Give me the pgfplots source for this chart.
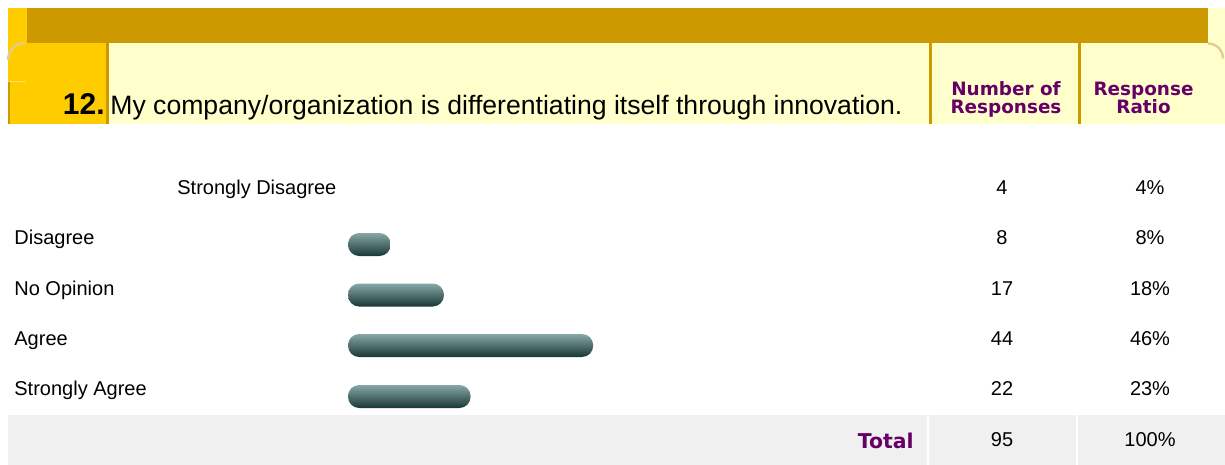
\documentclass[border=0pt]{standalone}
\usepackage{pgfplots}
\pgfplotsset{compat=1.18}
\usepackage{fontspec}
\setmainfont{Liberation Sans}
\newfontfamily\hdrfont{DejaVu Sans}
\definecolor{darkgold}{RGB}{204,153,0}
\definecolor{goldyellow}{RGB}{255,204,0}
\definecolor{cream}{RGB}{255,255,204}
\definecolor{arcgold}{RGB}{228,205,140}
\definecolor{rowgray}{RGB}{240,240,240}
\definecolor{hdrpurple}{RGB}{102,0,102}
\definecolor{tealtop}{RGB}{135,168,168}
\definecolor{tealmid}{RGB}{50,98,98}
\definecolor{tealbot}{RGB}{24,54,54}

\pgfplotsset{tealbar/.style={xbar, bar width=11.5pt, bar shift=0pt, draw=none,
  rounded corners=5.6pt, top color=tealtop, middle color=tealmid, bottom color=tealbot}}

\begin{document}
\begin{tikzpicture}
\begin{scope}[x=0.5pt,y=-0.5pt,shift={(0pt,232.5pt)}]
  \useasboundingbox (0,0) rectangle (1225,465);
  % header
  \fill[goldyellow] (8,8) rectangle (107,124);
  \fill[darkgold] (27,8) rectangle (1208,43);
  \fill[cream] (1208,8) rectangle (1225,43);
  \fill[cream] (108,43) rectangle (1225,124);
  \fill[darkgold] (106,43) rectangle (109,124);
  \fill[darkgold] (929,43) rectangle (931.5,124);
  \fill[darkgold] (1078,43) rectangle (1080.5,124);
  \draw[arcgold, line width=1.2pt] (8,60) arc[start angle=180, end angle=270, radius=17];
  \draw[arcgold, line width=1.2pt] (1208,43.5) arc[start angle=270, end angle=360, radius=15];
  \draw[goldyellow!60!white, line width=0.4pt] (9,81) -- (26,81);
  \fill[darkgold] (8,82) rectangle (9.5,124);
  \node[anchor=base east, inner sep=0pt, font=\fontsize{15pt}{18pt}\selectfont\bfseries] at (105,115) {12.};
  \node[anchor=base west, inner sep=0pt, font=\fontsize{13.3pt}{15pt}\selectfont] at (110,115) {My company/organization is differentiating itself through innovation.};
  \node[anchor=base, inner sep=0pt, text=hdrpurple, font=\hdrfont\bfseries\fontsize{9.2pt}{10pt}\selectfont] at (1006,96) {Number of};
  \node[anchor=base, inner sep=0pt, text=hdrpurple, font=\hdrfont\bfseries\fontsize{9.2pt}{10pt}\selectfont] at (1006,113.5) {Responses};
  \node[anchor=base, inner sep=0pt, text=hdrpurple, font=\hdrfont\bfseries\fontsize{9.2pt}{10pt}\selectfont] at (1143.5,96) {Response};
  \node[anchor=base, inner sep=0pt, text=hdrpurple, font=\hdrfont\bfseries\fontsize{9.2pt}{10pt}\selectfont] at (1143.5,113.5) {Ratio};
  % rows
  \node[anchor=base west, inner sep=0pt, font=\fontsize{10pt}{12pt}\selectfont] at (177,195) {Strongly Disagree};
  \foreach \lab/\yy in {Disagree/245, No Opinion/296, Agree/346, Strongly Agree/396}
    \node[anchor=base west, inner sep=0pt, font=\fontsize{10pt}{12pt}\selectfont] at (14,\yy) {\lab};
  \foreach \n/\p/\yy in {4/4/195, 8/8/245, 17/18/296, 44/46/346, 22/23/396}{
    \node[anchor=base, inner sep=0pt, font=\fontsize{10pt}{12pt}\selectfont] at (1002,\yy) {\n};
    \node[anchor=base, inner sep=0pt, font=\fontsize{10pt}{12pt}\selectfont] at (1150,\yy) {\p\%};
  }
  % total row
  \fill[rowgray] (8,415) rectangle (1225,465);
  \fill[white] (927,415) rectangle (929,465);
  \fill[white] (1076,415) rectangle (1078,465);
  \node[anchor=base east, inner sep=0pt, text=hdrpurple, font=\hdrfont\bfseries\fontsize{10.2pt}{12pt}\selectfont] at (914,448.5) {Total};
  \node[anchor=base, inner sep=0pt, font=\fontsize{10pt}{12pt}\selectfont] at (1002,447) {95};
  \node[anchor=base, inner sep=0pt, font=\fontsize{10pt}{12pt}\selectfont] at (1150,447) {100\%};
\end{scope}
\begin{axis}[at={(0,0)}, anchor=south west, scale only axis,
  width=612.5pt, height=232.5pt, hide axis,
  xmin=-65.29, xmax=164.54, ymin=0, ymax=465, y dir=reverse, clip=false]
  % response ratio (%) at each row position (Strongly Disagree shows no bar in the reference)
  \addplot[tealbar] coordinates {(8,244.5)};
  \addplot[tealbar] coordinates {(18,295)};
  \addplot[tealbar] coordinates {(46,345.5)};
  \addplot[tealbar] coordinates {(23,396.5)};
\end{axis}
\end{tikzpicture}
\end{document}
